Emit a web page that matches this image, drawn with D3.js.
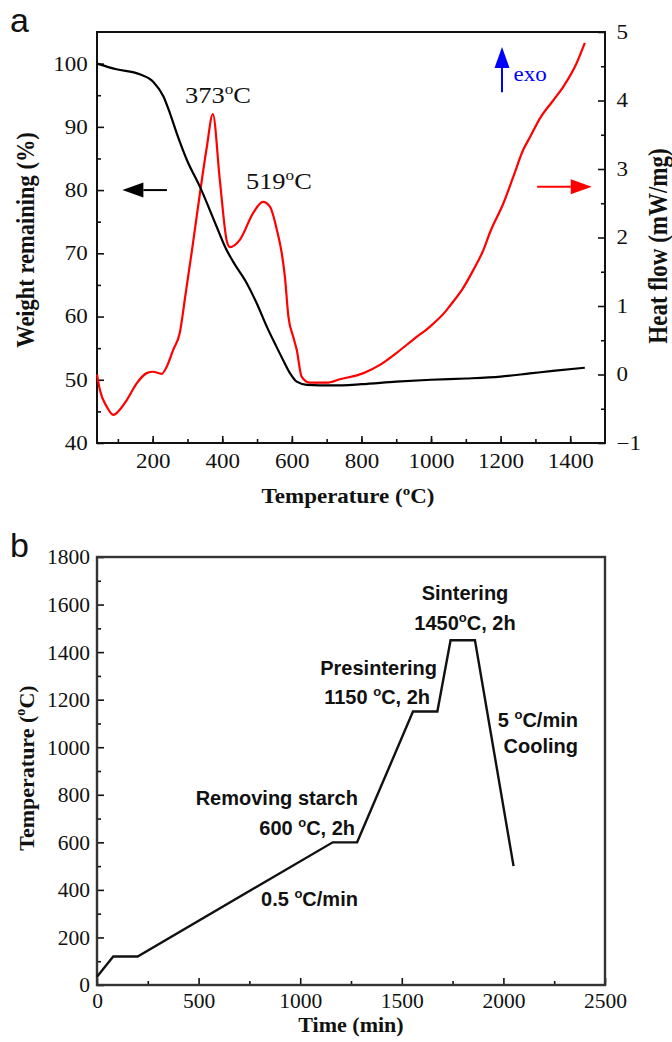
<!DOCTYPE html>
<html><head><meta charset="utf-8">
<script src="https://cdn.jsdelivr.net/npm/d3@7"></script>
<style>
html,body{margin:0;padding:0;background:#fff;}
svg{display:block;}
</style>
</head><body>
<svg id="chart" width="672" height="1042"></svg>
<script>
// ---------- Data: panel a (TG / DSC) ----------
const tgTemp = [40, 96, 163, 202, 231, 250, 269, 298, 336, 384, 410, 432, 470, 499, 528, 556, 575, 595, 614, 643, 718, 800, 900, 1000, 1100, 1200, 1284, 1350, 1442];
const tgWeight = [100, 99.1, 98.3, 97.1, 94.8, 92.1, 89, 84.8, 80.5, 74.2, 70.8, 68.6, 65.3, 62.1, 58.4, 55.2, 53.1, 51, 49.7, 49.2, 49.1, 49.3, 49.7, 50, 50.2, 50.5, 51, 51.4, 51.9];
const dscTemp = [40, 48, 68, 87, 106, 126, 154, 183, 201, 226, 240, 259, 278, 295, 312, 336, 355, 373, 393, 413, 422, 451, 489, 517, 537, 557, 571, 580, 590, 604, 614, 628, 652, 700, 738, 806, 853, 902, 949, 997, 1040, 1054, 1092, 1121, 1149, 1170, 1208, 1236, 1265, 1285, 1313, 1351, 1380, 1418, 1442];
const dscHeat = [0.0, -0.22, -0.47, -0.59, -0.51, -0.37, -0.13, 0.02, 0.04, 0.01, 0.11, 0.36, 0.61, 1.19, 1.78, 2.65, 3.3, 3.8, 2.84, 1.95, 1.86, 1.97, 2.36, 2.52, 2.45, 2.11, 1.77, 1.43, 0.85, 0.55, 0.36, -0.03, -0.12, -0.12, -0.07, 0.02, 0.14, 0.32, 0.51, 0.7, 0.91, 1.0, 1.26, 1.52, 1.8, 2.08, 2.5, 2.88, 3.28, 3.47, 3.74, 4.0, 4.2, 4.54, 4.84];
const aXTickLabels = [200, 400, 600, 800, 1000, 1200, 1400];
const aLeftTickLabels = [40, 50, 60, 70, 80, 90, 100];
const aRightTickLabels = [-1, 0, 1, 2, 3, 4, 5];
const peakLabels = ["373", "519"];

// ---------- Data: panel b (heating schedule) ----------
const schedTime = [0, 80, 200, 1160, 1280, 1555, 1675, 1740, 1860, 2050];
const schedTemp = [35, 120, 120, 600, 600, 1150, 1150, 1450, 1450, 500];
const bXTickLabels = [0, 500, 1000, 1500, 2000, 2500];
const bYTickLabels = [0, 200, 400, 600, 800, 1000, 1200, 1400, 1600, 1800];

const svg = d3.select("#chart");
const SERIF = "'Liberation Serif','Times New Roman',serif";
const SANS = "'Liberation Sans',Arial,sans-serif";
const SX = 1.15; // horizontal stretch of panel a text
const fmt = d3.format("d");

// helper: text with superscript "o"
function degText(sel, before, after) {
  sel.append("tspan").text(before);
  sel.append("tspan").attr("font-size", "0.65em").attr("dy", "-0.6em").text("o");
  sel.append("tspan").attr("dy", "0.39em").text(after);
}

// ================= Panel a =================
const A = {left: 97, right: 605, top: 32, bottom: 443};
const xA = d3.scaleLinear().domain([40, 1500]).range([A.left, A.right]);
const yW = d3.scaleLinear().domain([40, 105]).range([A.bottom, A.top]);
const yH = d3.scaleLinear().domain([-1, 5]).range([A.bottom, A.top]);
const ga = svg.append("g");

function styleAxis(g, font, size, stretch) {
  g.select(".domain").remove();
  g.selectAll("line").attr("stroke", "#111").attr("stroke-width", 1.6);
  g.selectAll("text").attr("font-family", font).attr("font-size", size).attr("fill", "#111");
  if (stretch) g.selectAll("text").attr("transform", `scale(${stretch},1)`);
}

// minor + major ticks
ga.append("g").attr("transform", `translate(0,${A.bottom})`)
  .call(d3.axisBottom(xA).tickValues(d3.range(100, 1500, 100)).tickSize(-4).tickFormat(""))
  .call(g => styleAxis(g));
ga.append("g").attr("transform", `translate(0,${A.bottom})`)
  .call(d3.axisBottom(xA).tickValues(aXTickLabels).tickSize(-7).tickPadding(11).tickSizeOuter(0).tickFormat(fmt))
  .call(g => styleAxis(g, SERIF, 20, SX));
ga.append("g").attr("transform", `translate(${A.left},0)`)
  .call(d3.axisLeft(yW).tickValues(d3.range(45, 105, 10)).tickSize(-4).tickFormat(""))
  .call(g => styleAxis(g));
ga.append("g").attr("transform", `translate(${A.left},0)`)
  .call(d3.axisLeft(yW).tickValues(aLeftTickLabels).tickSize(-7).tickPadding(8).tickSizeOuter(0).tickFormat(fmt))
  .call(g => styleAxis(g, SERIF, 20, SX));
ga.append("g").attr("transform", `translate(${A.right},0)`)
  .call(d3.axisRight(yH).tickValues(d3.range(-0.5, 5, 1)).tickSize(-4).tickFormat(""))
  .call(g => styleAxis(g));
ga.append("g").attr("transform", `translate(${A.right},0)`)
  .call(d3.axisRight(yH).tickValues(aRightTickLabels).tickSize(-7).tickPadding(10).tickSizeOuter(0).tickFormat(fmt))
  .call(g => styleAxis(g, SERIF, 20, SX));

// frame
ga.append("rect").attr("x", A.left).attr("y", A.top).attr("width", A.right - A.left).attr("height", A.bottom - A.top)
  .attr("fill", "none").attr("stroke", "#111").attr("stroke-width", 2);

// curves
const lineTG = d3.line().x((d, i) => xA(tgTemp[i])).y(d => yW(d)).curve(d3.curveMonotoneX);
const lineDSC = d3.line().x((d, i) => xA(dscTemp[i])).y(d => yH(d)).curve(d3.curveMonotoneX);
ga.append("path").attr("d", lineDSC(dscHeat)).attr("fill", "none").attr("stroke", "#ff0000").attr("stroke-width", 2.2);
ga.append("path").attr("d", lineTG(tgWeight)).attr("fill", "none").attr("stroke", "#000").attr("stroke-width", 2.2);

// arrows
function arrow(g, x1, y1, x2, y2, color) {
  const ang = Math.atan2(y2 - y1, x2 - x1), L = 21, Wd = 7.5;
  const bx = x2 - L * Math.cos(ang), by = y2 - L * Math.sin(ang);
  g.append("line").attr("x1", x1).attr("y1", y1).attr("x2", bx).attr("y2", by)
    .attr("stroke", color).attr("stroke-width", 2);
  const px = -Math.sin(ang) * Wd, py = Math.cos(ang) * Wd;
  g.append("path").attr("d", `M${x2},${y2}L${bx + px},${by + py}L${bx - px},${by - py}Z`).attr("fill", color);
}
arrow(ga, xA(241), yW(80), xA(113), yW(80), "#000");
arrow(ga, xA(1305), yH(2.74), xA(1462), yH(2.74), "#ff0000");
arrow(ga, xA(1204), yH(4.12), xA(1204), yH(4.78), "#0000ff");
ga.append("text").attr("transform", `translate(${xA(1237)},${yH(4.28)}) scale(${SX},1)`)
  .attr("font-family", SERIF).attr("font-size", 20).attr("fill", "#0000ff").text("exo");

// peak labels
[[293, 93.8], [468, 80.2]].forEach((p, i) => {
  const t = ga.append("text").attr("transform", `translate(${xA(p[0])},${yW(p[1])}) scale(${SX},1)`)
    .attr("font-family", SERIF).attr("font-size", 23).attr("fill", "#111");
  degText(t, peakLabels[i], "C");
});

// titles
const xtA = ga.append("text").attr("transform", `translate(${(A.left + A.right) / 2 - 3},503) scale(${SX},1)`)
  .attr("text-anchor", "middle").attr("font-family", SERIF).attr("font-weight", "bold").attr("font-size", 20).attr("fill", "#111");
degText(xtA, "Temperature (", "C)");
ga.append("text").attr("transform", `translate(34,240) scale(${SX},1) rotate(-90)`)
  .attr("text-anchor", "middle").attr("font-family", SERIF).attr("font-weight", "bold").attr("font-size", 22.5).attr("fill", "#111")
  .text("Weight remaining (%)");
ga.append("text").attr("transform", `translate(667,246) scale(${SX},1) rotate(-90)`)
  .attr("text-anchor", "middle").attr("font-family", SERIF).attr("font-weight", "bold").attr("font-size", 23).attr("fill", "#111")
  .text("Heat flow (mW/mg)");
ga.append("text").attr("x", 10).attr("y", 32).attr("font-family", SANS).attr("font-size", 34).attr("fill", "#111").text("a");

// ================= Panel b =================
const B = {left: 97, right: 605, top: 557, bottom: 985};
const xB = d3.scaleLinear().domain([0, 2500]).range([B.left, B.right]);
const yB = d3.scaleLinear().domain([0, 1800]).range([B.bottom, B.top]);
const gb = svg.append("g");

gb.append("g").attr("transform", `translate(0,${B.bottom})`)
  .call(d3.axisBottom(xB).tickValues(d3.range(250, 2500, 500)).tickSize(-4).tickFormat(""))
  .call(g => styleAxis(g));
gb.append("g").attr("transform", `translate(0,${B.bottom})`)
  .call(d3.axisBottom(xB).tickValues(bXTickLabels).tickSize(-7).tickPadding(8).tickSizeOuter(0).tickFormat(fmt))
  .call(g => styleAxis(g, SERIF, 21.5));
gb.append("g").attr("transform", `translate(${B.left},0)`)
  .call(d3.axisLeft(yB).tickValues(d3.range(100, 1800, 200)).tickSize(-4).tickFormat(""))
  .call(g => styleAxis(g));
gb.append("g").attr("transform", `translate(${B.left},0)`)
  .call(d3.axisLeft(yB).tickValues(bYTickLabels).tickSize(-7).tickPadding(7).tickSizeOuter(0).tickFormat(fmt))
  .call(g => styleAxis(g, SERIF, 21.5));
gb.append("rect").attr("x", B.left).attr("y", B.top).attr("width", B.right - B.left).attr("height", B.bottom - B.top)
  .attr("fill", "none").attr("stroke", "#333").attr("stroke-width", 2.4);

const lineB = d3.line().x((d, i) => xB(schedTime[i])).y(d => yB(d));
gb.append("path").attr("d", lineB(schedTemp)).attr("fill", "none").attr("stroke", "#111").attr("stroke-width", 2.4);

function sansLabel(t, T, anchor, parts) {
  const el = gb.append("text").attr("x", xB(t)).attr("y", yB(T)).attr("text-anchor", anchor)
    .attr("font-family", SANS).attr("font-weight", "bold").attr("font-size", 20).attr("fill", "#111");
  if (parts.length === 1) el.text(parts[0]); else degText(el, parts[0], parts[1]);
}
sansLabel(1811, 1619, "middle", ["Sintering"]);
sansLabel(1811, 1493, "middle", ["1450", "C, 2h"]);
sansLabel(1673, 1304, "end", ["Presintering"]);
sansLabel(1639, 1182, "end", ["1150 ", "C, 2h"]);
sansLabel(2367, 1085, "end", ["5 ", "C/min"]);
sansLabel(2367, 976, "end", ["Cooling"]);
sansLabel(1284, 757, "end", ["Removing starch"]);
sansLabel(1270, 631, "end", ["600 ", "C, 2h"]);
sansLabel(1284, 332, "end", ["0.5 ", "C/min"]);

gb.append("text").attr("x", (B.left + B.right) / 2).attr("y", 1032)
  .attr("text-anchor", "middle").attr("font-family", SERIF).attr("font-weight", "bold").attr("font-size", 22).attr("fill", "#111")
  .text("Time (min)");
const ytB = gb.append("text").attr("transform", `translate(34,768) rotate(-90)`)
  .attr("text-anchor", "middle").attr("font-family", SERIF).attr("font-weight", "bold").attr("font-size", 22).attr("fill", "#111");
degText(ytB, "Temperature (", "C)");
gb.append("text").attr("x", 10).attr("y", 557).attr("font-family", SANS).attr("font-size", 34).attr("fill", "#111").text("b");
</script>
</body></html>
